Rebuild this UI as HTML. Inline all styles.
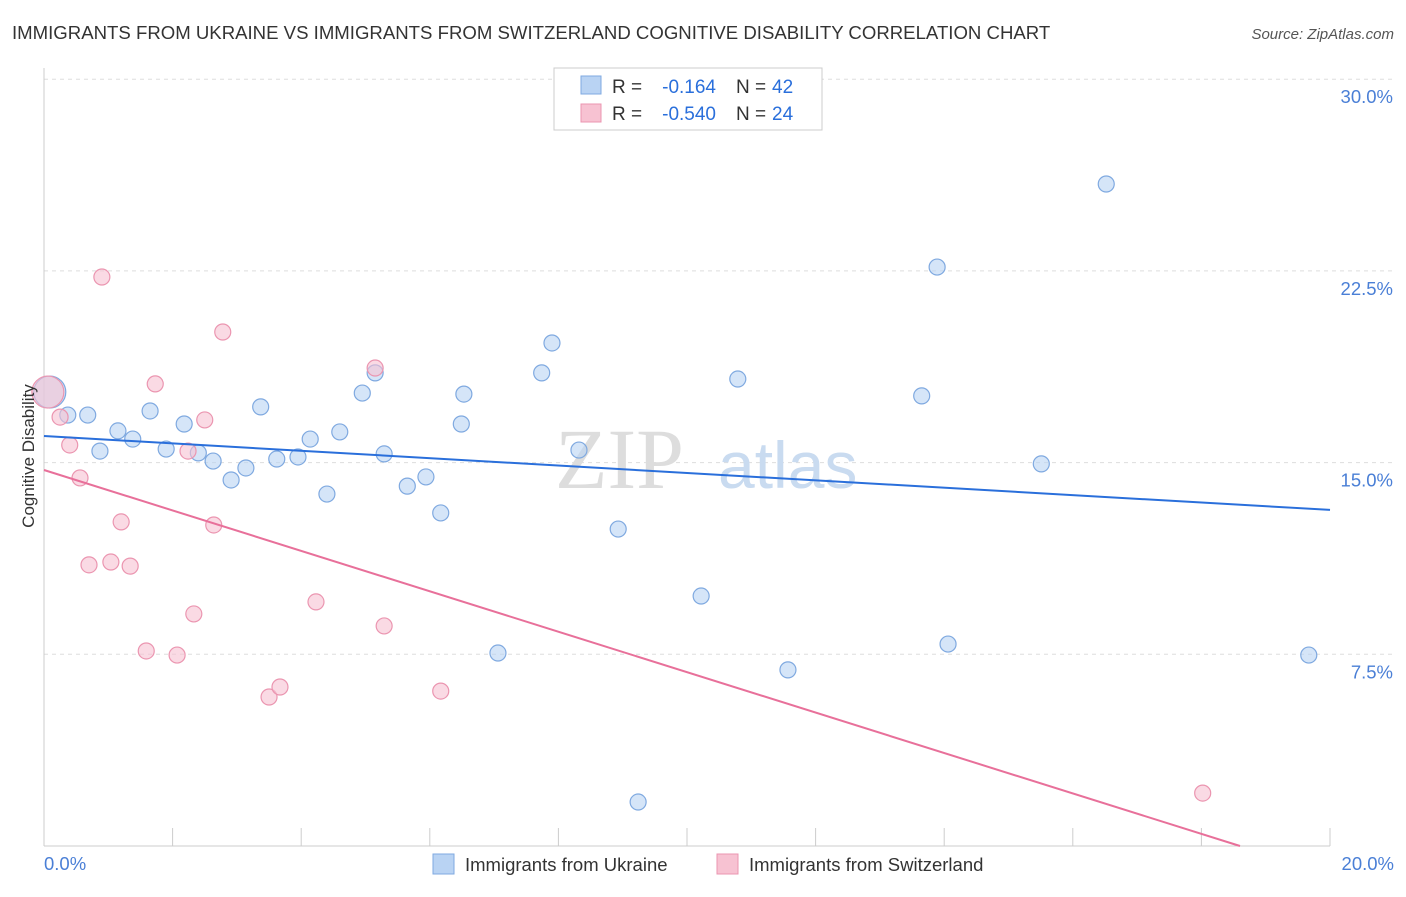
<!DOCTYPE html>
<html><head><meta charset="utf-8"><style>
body{margin:0;background:#fff;font-family:"Liberation Sans",sans-serif;}
</style></head><body>
<svg width="1406" height="892" xmlns="http://www.w3.org/2000/svg" style="font-family:'Liberation Sans',sans-serif">
<text x="12" y="39" font-size="18.6" fill="#333">IMMIGRANTS FROM UKRAINE VS IMMIGRANTS FROM SWITZERLAND COGNITIVE DISABILITY CORRELATION CHART</text>
<text x="1394" y="39" font-size="15" fill="#555" font-style="italic" text-anchor="end">Source: ZipAtlas.com</text>
<g id="grid"></g>
<g id="axes"></g>
<text x="555" y="488" font-size="86" fill="#ddd" font-family="Liberation Serif">ZIP</text>
<text x="718" y="488" font-size="66" fill="#c9dbf0">atlas</text>
<g id="pts"></g>
<g id="lines"></g>
<g font-size="19">
<rect x="554" y="68" width="268" height="62" fill="#fff" stroke="#ccc"/>
<rect x="581" y="76" width="20" height="18" fill="#b9d3f3" stroke="#7fa9e0"/>
<rect x="581" y="104" width="20" height="18" fill="#f7c2d2" stroke="#eb95b0"/>
<text x="612" y="93" fill="#333">R =</text>
<text x="716" y="93" fill="#2a6fdb" text-anchor="end">-0.164</text>
<text x="736" y="93" fill="#333">N =</text>
<text x="772" y="93" fill="#2a6fdb">42</text>
<text x="612" y="120" fill="#333">R =</text>
<text x="716" y="120" fill="#2a6fdb" text-anchor="end">-0.540</text>
<text x="736" y="120" fill="#333">N =</text>
<text x="772" y="120" fill="#2a6fdb">24</text>
</g>
<g>
<rect x="433" y="854" width="21" height="20" fill="#b9d3f3" stroke="#7fa9e0"/>
<text x="465" y="871" font-size="18.5" fill="#333">Immigrants from Ukraine</text>
<rect x="717" y="854" width="21" height="20" fill="#f7c2d2" stroke="#eb95b0"/>
<text x="749" y="871" font-size="18.5" fill="#333">Immigrants from Switzerland</text>
</g>
<text transform="translate(34,456) rotate(-90)" font-size="17" fill="#333" text-anchor="middle">Cognitive Disability</text>
</svg>
<script>
const yTicks=[7.5,15,22.5,30];
const yTickLabels=["7.5%","15.0%","22.5%","30.0%"];
const xTickLabels=["0.0%","20.0%"];
const blueX=[.09,.37,.68,.87,1.15,1.38,1.65,1.90,2.18,2.40,2.63,2.91,3.14,3.37,3.62,3.95,4.14,4.40,4.60,4.95,5.15,5.29,5.65,5.94,6.17,6.49,6.53,7.06,7.74,7.90,8.32,8.93,9.24,10.22,10.79,11.57,13.65,13.89,14.06,15.51,16.52,19.67];
const blueY=[17.76,16.86,16.86,15.45,16.24,15.92,17.02,15.53,16.51,15.38,15.06,14.32,14.79,17.18,15.14,15.22,15.92,13.77,16.20,17.72,18.51,15.34,14.08,14.44,13.03,16.51,17.68,7.55,18.51,19.68,15.49,12.40,1.72,9.78,18.27,6.89,17.61,22.65,7.90,14.95,25.90,7.47];
const pinkX=[.06,.25,.40,.56,.70,.90,1.04,1.20,1.34,1.59,1.73,2.07,2.24,2.33,2.50,2.64,2.78,3.50,3.67,4.23,5.15,5.29,6.17,18.02];
const pinkY=[17.76,16.78,15.69,14.40,11.00,22.26,11.11,12.68,10.95,7.63,18.08,7.47,15.45,9.08,16.67,12.56,20.11,5.83,6.22,9.55,18.70,8.61,6.06,2.07];
const blueTrend=[[0,16.04],[20,13.15]];
const pinkTrend=[[0,14.71],[18.6,0]];
const NS="http://www.w3.org/2000/svg";
const sx=v=>44+v*64.3, sy=v=>846-v*25.56;
function mk(t,a,p){const e=document.createElementNS(NS,t);for(const k in a)e.setAttribute(k,a[k]);p.appendChild(e);return e;}
const grid=document.getElementById('grid'),axes=document.getElementById('axes');
yTicks.forEach((t,i)=>{
 const l=mk('line',{x1:44,x2:1394,y1:sy(t),y2:sy(t),stroke:'#ddd','stroke-dasharray':'4,4'},grid);
 
 
 const tx=mk('text',{x:1393,y:sy(t)+24,'font-size':18.5,fill:'#4a7fd6','text-anchor':'end'},axes);
 tx.textContent=yTickLabels[i];
 
 
});
mk('line',{x1:44,x2:44,y1:68,y2:846,stroke:'#ccc'},axes);
mk('line',{x1:44,x2:1330,y1:846,y2:846,stroke:'#ccc'},axes);
for(let i=0;i<=10;i++){const t=mk('line',{x1:sx(i*2),x2:sx(i*2),y1:828,y2:846,stroke:'#ccc'},axes);
 
 }
[[0,'start'],[20,'end']].forEach((d,i)=>{const t=mk('text',{x:i?1394:44,y:870,'font-size':18.5,fill:'#4a7fd6','text-anchor':d[1]},axes);t.textContent=xTickLabels[i];
 
 });
const pts=document.getElementById('pts');
function dots(X,Y,fill,stroke,name){X.forEach((x,i)=>{const c=mk('circle',{cx:sx(x),cy:sy(Y[i]),r:i==0?16:8,fill:fill,'fill-opacity':0.6,stroke:stroke,'stroke-width':1.2},pts);
 
 });}
dots(blueX,blueY,'#b9d3f3','#7fa9e0','ukraine-point');
dots(pinkX,pinkY,'#f7c2d2','#eb95b0','switzerland-point');
const lines=document.getElementById('lines');
const bl=mk('line',{x1:sx(blueTrend[0][0]),y1:sy(blueTrend[0][1]),x2:sx(blueTrend[1][0]),y2:sy(blueTrend[1][1]),stroke:'#2a6fdb','stroke-width':2},lines);


const pl=mk('line',{x1:sx(pinkTrend[0][0]),y1:sy(pinkTrend[0][1]),x2:sx(pinkTrend[1][0]),y2:sy(pinkTrend[1][1]),stroke:'#e8709a','stroke-width':2},lines);


</script>
</body></html>
